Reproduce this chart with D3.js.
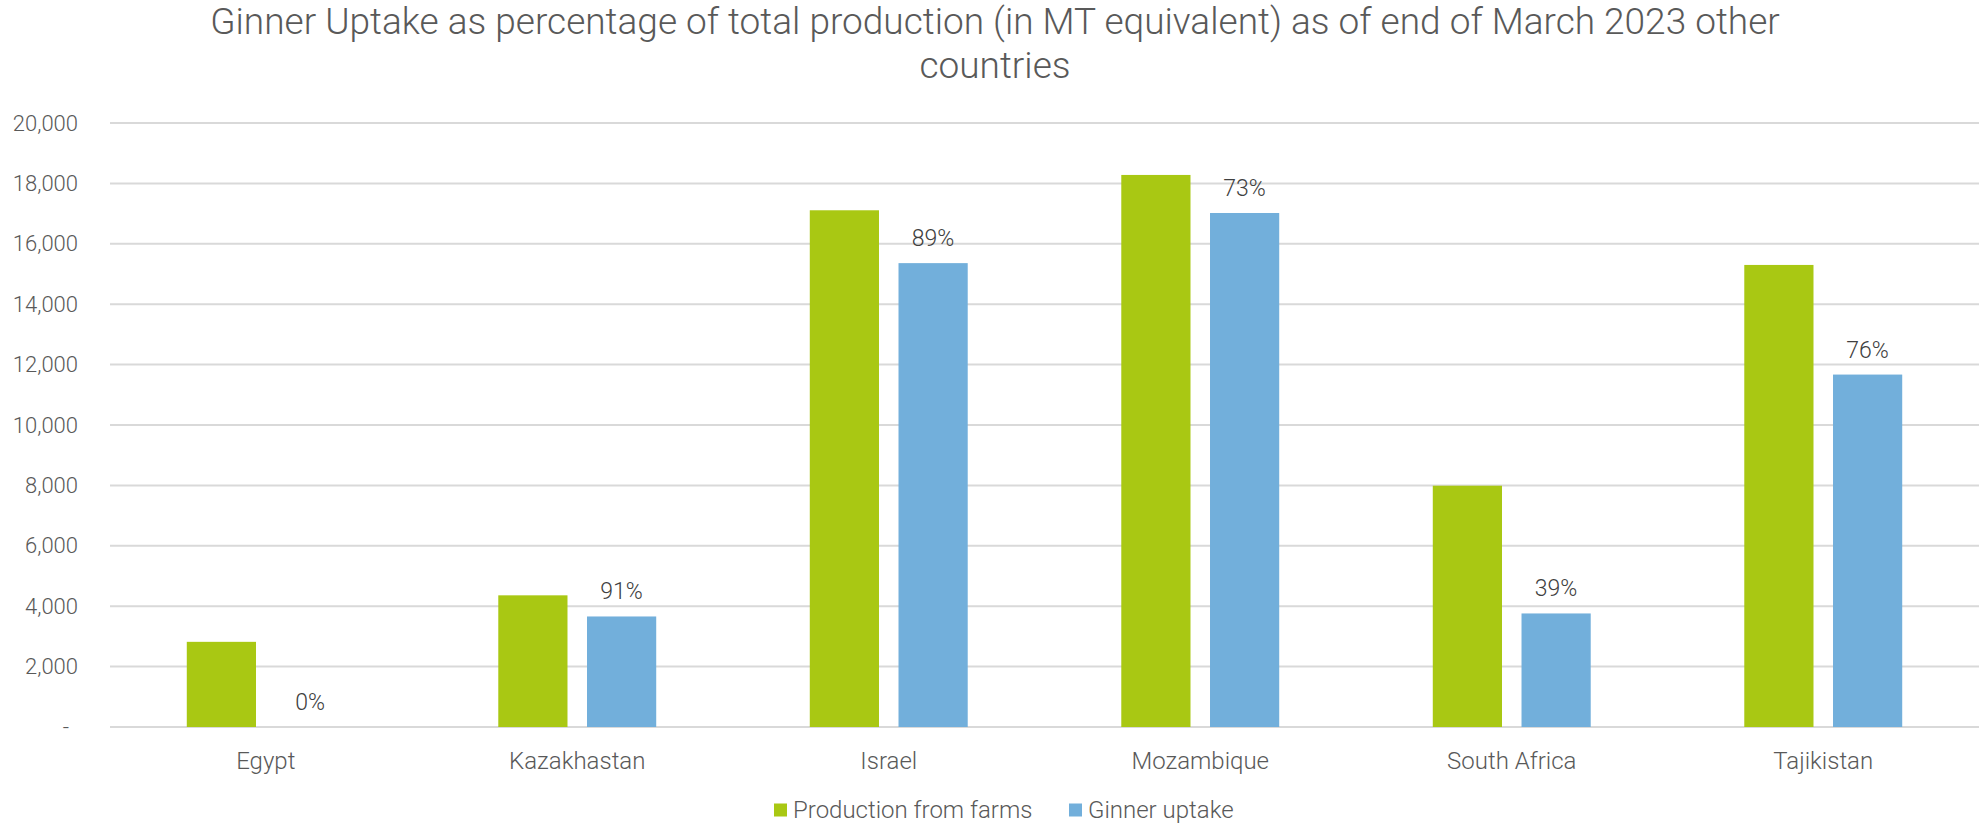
<!DOCTYPE html>
<html>
<head>
<meta charset="utf-8">
<script src="https://cdn.jsdelivr.net/npm/d3@7"></script>
<style>
  body { margin: 0; background: #fff; }
  svg { font-family: Roboto, "Noto Sans", sans-serif; font-weight: 300; }
</style>
</head>
<body>
<svg width="1982" height="826"></svg>
<script>
// chart data
var countries = ["Egypt", "Kazakhastan", "Israel", "Mozambique", "South Africa", "Tajikistan"];
var production = [2820, 4360, 17110, 18280, 7990, 15300];
var uptake = [0, 3660, 15360, 17020, 3760, 11670];
var uptakeLabels = ["0%", "91%", "89%", "73%", "39%", "76%"];
var seriesNames = ["Production from farms", "Ginner uptake"];
var yTicks = [0, 2000, 4000, 6000, 8000, 10000, 12000, 14000, 16000, 18000, 20000];

var colors = ["#a9c813", "#72afdb"];

var svg = d3.select("svg"),
  width = +svg.attr("width"),
  height = +svg.attr("height");

var margin = { left: 110, right: 3, top: 123, bottom: 99 };

// scales
var x0 = d3.scaleBand()
  .domain(countries)
  .range([margin.left, width - margin.right])
  .paddingInner(0.493)
  .paddingOuter(0.2465);

var x1 = d3.scaleBand()
  .domain(seriesNames)
  .range([0, x0.bandwidth()])
  .paddingInner(0.22);

var y = d3.scaleLinear()
  .domain([0, 20000])
  .range([height - margin.bottom, margin.top]);

// title
svg.append("text")
  .attr("x", 995)
  .attr("y", 34)
  .attr("text-anchor", "middle")
  .style("font-size", "37px")
  .style("fill", "#595959")
  .selectAll("tspan")
  .data(["Ginner Uptake as percentage of total production (in MT equivalent) as of end of March 2023 other", "countries"])
  .enter().append("tspan")
  .attr("x", 995)
  .attr("dy", function (d, i) { return i === 0 ? 0 : 44; })
  .text(function (d) { return d; });

// gridlines
svg.append("g")
  .selectAll("line")
  .data(yTicks)
  .enter().append("line")
  .attr("x1", margin.left)
  .attr("x2", width - margin.right)
  .attr("y1", function (d) { return y(d); })
  .attr("y2", function (d) { return y(d); })
  .style("stroke", "#d9d9d9")
  .style("stroke-width", 2);

// y axis labels (zero shown as a dash, accounting style)
var yAxis = svg.append("g")
  .attr("transform", "translate(" + 78 + ",0)")
  .call(d3.axisLeft(y).tickValues(yTicks).tickSize(0).tickPadding(0)
    .tickFormat(function (d) { return d === 0 ? "-" : d3.format(",")(d); }));
yAxis.select(".domain").remove();
yAxis.selectAll("text")
  .attr("dx", function (d) { return d === 0 ? -9 : 0; })
  .style("font-size", "22px")
  .style("font-family", "Roboto, sans-serif")
  .style("font-weight", 300)
  .style("fill", "#595959");

// x axis labels
var xAxis = svg.append("g")
  .attr("transform", "translate(0," + (height - margin.bottom) + ")")
  .call(d3.axisBottom(x0).tickSize(0).tickPadding(25));
xAxis.select(".domain").remove();
xAxis.selectAll("text")
  .style("font-size", "24px")
  .style("font-family", "Roboto, sans-serif")
  .style("font-weight", 300)
  .style("fill", "#595959");

// bars
var rows = countries.map(function (c, i) {
  return { country: c, values: [production[i], uptake[i]], label: uptakeLabels[i] };
});

var groups = svg.append("g")
  .selectAll("g")
  .data(rows)
  .enter().append("g")
  .attr("transform", function (d) { return "translate(" + x0(d.country) + ",0)"; });

groups.selectAll("rect")
  .data(function (d) { return d.values.map(function (v, j) { return { key: seriesNames[j], value: v, j: j }; }); })
  .enter().append("rect")
  .attr("x", function (d) { return x1(d.key); })
  .attr("width", x1.bandwidth())
  .attr("y", function (d) { return y(d.value); })
  .attr("height", function (d) { return y(0) - y(d.value); })
  .attr("fill", function (d) { return colors[d.j]; });

// percentage labels above uptake bars
groups.append("text")
  .attr("x", x1(seriesNames[1]) + x1.bandwidth() / 2)
  .attr("y", function (d) { return y(d.values[1]) - 17; })
  .attr("text-anchor", "middle")
  .style("font-size", "23px")
  .style("fill", "#404040")
  .text(function (d) { return d.label; });

// legend
var legend = svg.append("g")
  .attr("transform", "translate(0," + 810 + ")");

var legendX = [774, 1069];
var item = legend.selectAll("g")
  .data(seriesNames)
  .enter().append("g")
  .attr("transform", function (d, i) { return "translate(" + legendX[i] + ",0)"; });

item.append("rect")
  .attr("x", 0)
  .attr("y", -6.5)
  .attr("width", 13)
  .attr("height", 13)
  .attr("fill", function (d, i) { return colors[i]; });

item.append("text")
  .attr("x", 19)
  .attr("y", 0)
  .attr("dy", "0.35em")
  .style("font-size", "24px")
  .style("fill", "#595959")
  .text(function (d) { return d; });
</script>
</body>
</html>
